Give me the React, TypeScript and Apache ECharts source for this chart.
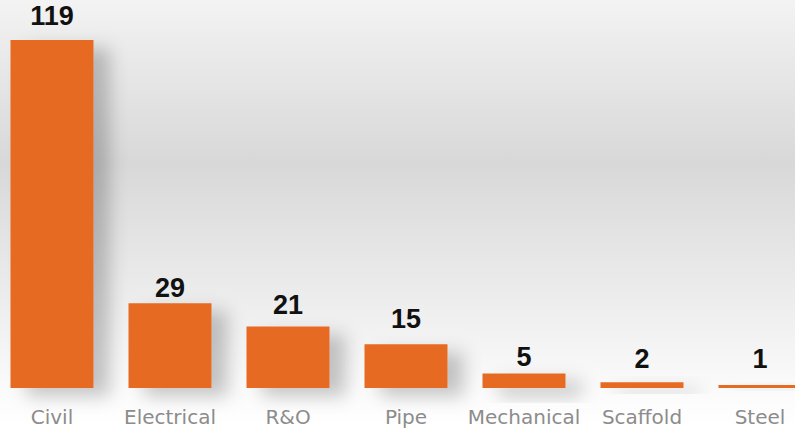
import React, { useEffect, useRef } from "react";
import * as echarts from "echarts";

const categories = ["Civil", "Electrical", "R&O", "Pipe", "Mechanical", "Scaffold", "Steel"];
const counts = [119, 29, 21, 15, 5, 2, 1];

export default function App() {
  const ref = useRef<HTMLDivElement>(null);
  useEffect(() => {
    if (!ref.current) return;
    const chart = echarts.init(ref.current, undefined, { renderer: "svg" });
    const labelGap = [11, 2, 8, 12, 3, 10, 13];
    chart.setOption({
      animation: false,
      backgroundColor: new echarts.graphic.LinearGradient(0, 0, 0, 1, [
        { offset: 0, color: "#f3f3f3" },
        { offset: 0.38, color: "#d8d8d8" },
        { offset: 0.9, color: "#fafafa" },
        { offset: 1, color: "#ffffff" },
      ]),
      grid: { left: 0, right: 0, top: 40, bottom: 40 },
      xAxis: {
        type: "category",
        data: categories,
        axisLine: { show: false },
        axisTick: { show: false },
        axisLabel: {
          color: "#8c8c8c",
          fontFamily: "DejaVu Sans",
          fontSize: 20,
          margin: 19,
          interval: 0,
        },
      },
      yAxis: {
        type: "value",
        min: 0,
        max: 119,
        show: false,
        splitLine: { show: false },
      },
      series: [
        {
          type: "bar",
          barWidth: 83,
          data: counts.map((v, i) => ({
            value: v,
            label: { distance: labelGap[i] },
          })),
          itemStyle: {
            color: "#e66a21",
            shadowColor: "rgba(0,0,0,0.22)",
            shadowBlur: 18,
            shadowOffsetX: 16,
            shadowOffsetY: 8,
          },
          label: {
            show: true,
            position: "top",
            color: "#111111",
            fontFamily: "Liberation Sans",
            fontWeight: "bold",
            fontSize: 27,
          },
        },
      ],
    });
    return () => chart.dispose();
  }, []);
  return (
    <div style={{ position: "absolute", left: 0, top: 0, width: 795, height: 428, overflow: "hidden" }}>
      <div
        ref={ref}
        style={{ position: "absolute", left: -7.5, top: 0, width: 826, height: 428 }}
      />
    </div>
  );
}
